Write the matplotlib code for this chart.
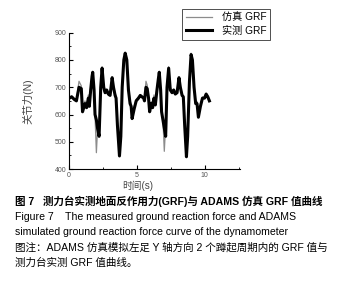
import matplotlib
matplotlib.use("Agg")
import matplotlib.pyplot as plt
from matplotlib.ticker import MultipleLocator

plt.rcParams['font.family'] = ['Liberation Sans', 'Noto Sans CJK SC', 'DejaVu Sans']

# time (s)
t = [0.0, 0.2, 0.4, 0.55, 0.74, 0.91, 1.0, 1.18, 1.3, 1.43, 1.5, 1.6, 1.7, 1.75,
     1.85, 1.92, 2.02, 2.12, 2.22, 2.34, 2.44, 2.56, 2.66, 2.78, 2.9, 3.03, 3.18,
     3.28, 3.4, 3.47, 3.57, 3.72, 3.82, 3.92, 4.04, 4.14, 4.26, 4.38, 4.5, 4.58,
     4.65, 4.8, 4.95, 5.12, 5.25, 5.37, 5.5, 5.56, 5.67, 5.76, 5.86, 5.94, 6.06,
     6.16, 6.26, 6.36, 6.48, 6.58, 6.65, 6.75, 6.82, 6.92, 7.02, 7.12, 7.22, 7.34,
     7.46, 7.59, 7.71, 7.83, 7.96, 8.1, 8.2, 8.33, 8.42, 8.52, 8.65, 8.74, 8.87,
     8.99, 9.09, 9.21, 9.33, 9.43, 9.53, 9.68, 9.83, 9.98, 10.1, 10.22, 10.34]

# measured GRF
measured = [659, 665, 655, 650, 700, 695, 610, 640, 625, 660, 630, 690, 740, 755,
            690, 600, 580, 545, 520, 700, 770, 700, 680, 690, 675, 670, 735,
            700, 670, 660, 560, 448, 520, 700, 800, 825, 800, 690, 640, 630,
            585, 620, 650, 660, 670, 665, 660, 650, 700, 695, 660, 610, 640,
            625, 660, 635, 690, 730, 755, 690, 610, 580, 550, 520, 700, 770,
            690, 680, 690, 675, 680, 735, 700, 670, 665, 560, 445, 520, 720,
            820, 800, 700, 640, 640, 590, 630, 660, 660, 675, 665, 650]

# simulated GRF
simulated = [662, 668, 658, 652, 722, 705, 615, 650, 632, 672, 638, 700, 748, 758,
             680, 595, 460, 560, 530, 710, 775, 705, 690, 692, 680, 675, 738,
             705, 678, 668, 570, 455, 515, 705, 805, 828, 805, 700, 650, 640,
             595, 630, 655, 665, 672, 668, 662, 652, 722, 708, 665, 615, 648,
             632, 672, 640, 700, 738, 758, 685, 605, 580, 465, 560, 710, 775,
             700, 688, 692, 680, 684, 738, 705, 676, 668, 570, 452, 515, 725,
             825, 805, 705, 648, 648, 598, 636, 664, 664, 678, 668, 655]

fig = plt.figure(figsize=(3.43, 2.87), dpi=100)
ax = fig.add_axes([0.201, 0.411, 0.499, 0.475])

ax.plot(t, simulated, color='#8c8c8c', lw=0.9, label='仿真 GRF')
ax.plot(t, measured, color='black', lw=2.2, label='实测 GRF')

ax.set_xlim(0, 12.6)
ax.set_ylim(400, 900)
ax.spines['top'].set_visible(False)
ax.spines['right'].set_visible(False)
for s in ['left', 'bottom']:
    ax.spines[s].set_linewidth(0.8)
ax.xaxis.set_major_locator(MultipleLocator(5))
ax.xaxis.set_minor_locator(MultipleLocator(2.5))
ax.yaxis.set_major_locator(MultipleLocator(100))
ax.yaxis.set_minor_locator(MultipleLocator(50))
ax.tick_params(which='both', direction='in', labelsize=5, colors='black',
               labelcolor='#555555', pad=2)
ax.tick_params(which='major', length=3)
ax.tick_params(which='minor', length=1.5)

ax.set_xlabel('时间(s)', fontsize=7, color='#444444')
ax.xaxis.set_label_coords((138 - 69) / 171, -0.085)
ax.set_ylabel('关节力(N)', fontsize=7.5, color='#444444')
ax.yaxis.set_label_coords(-0.21, 0.5)

leg = fig.legend(loc='upper left', bbox_to_anchor=(0.531, 0.969), fontsize=7.3,
                 frameon=True, fancybox=False, edgecolor='black',
                 handlelength=2.6, handletextpad=1.0, borderpad=0.35,
                 labelspacing=0.35, borderaxespad=0)
leg.get_frame().set_linewidth(0.6)

caption = [
    ('图 7   测力台实测地面反作用力(GRF)与 ADAMS 仿真 GRF 值曲线', 'bold'),
    ('Figure 7    The measured ground reaction force and ADAMS', 'normal'),
    ('simulated ground reaction force curve of the dynamometer', 'normal'),
    ('图注：ADAMS 仿真模拟左足 Y 轴方向 2 个蹲起周期内的 GRF 值与', 'normal'),
    ('测力台实测 GRF 值曲线。', 'normal'),
]
y0 = 201.7
for i, (txt, w) in enumerate(caption):
    fig.text(15 / 343, 1 - (y0 + i * 15.3) / 287, txt, fontsize=7.6,
             fontweight=w, va='center', ha='left', color='black')

fig.savefig('out.png', dpi=100)
